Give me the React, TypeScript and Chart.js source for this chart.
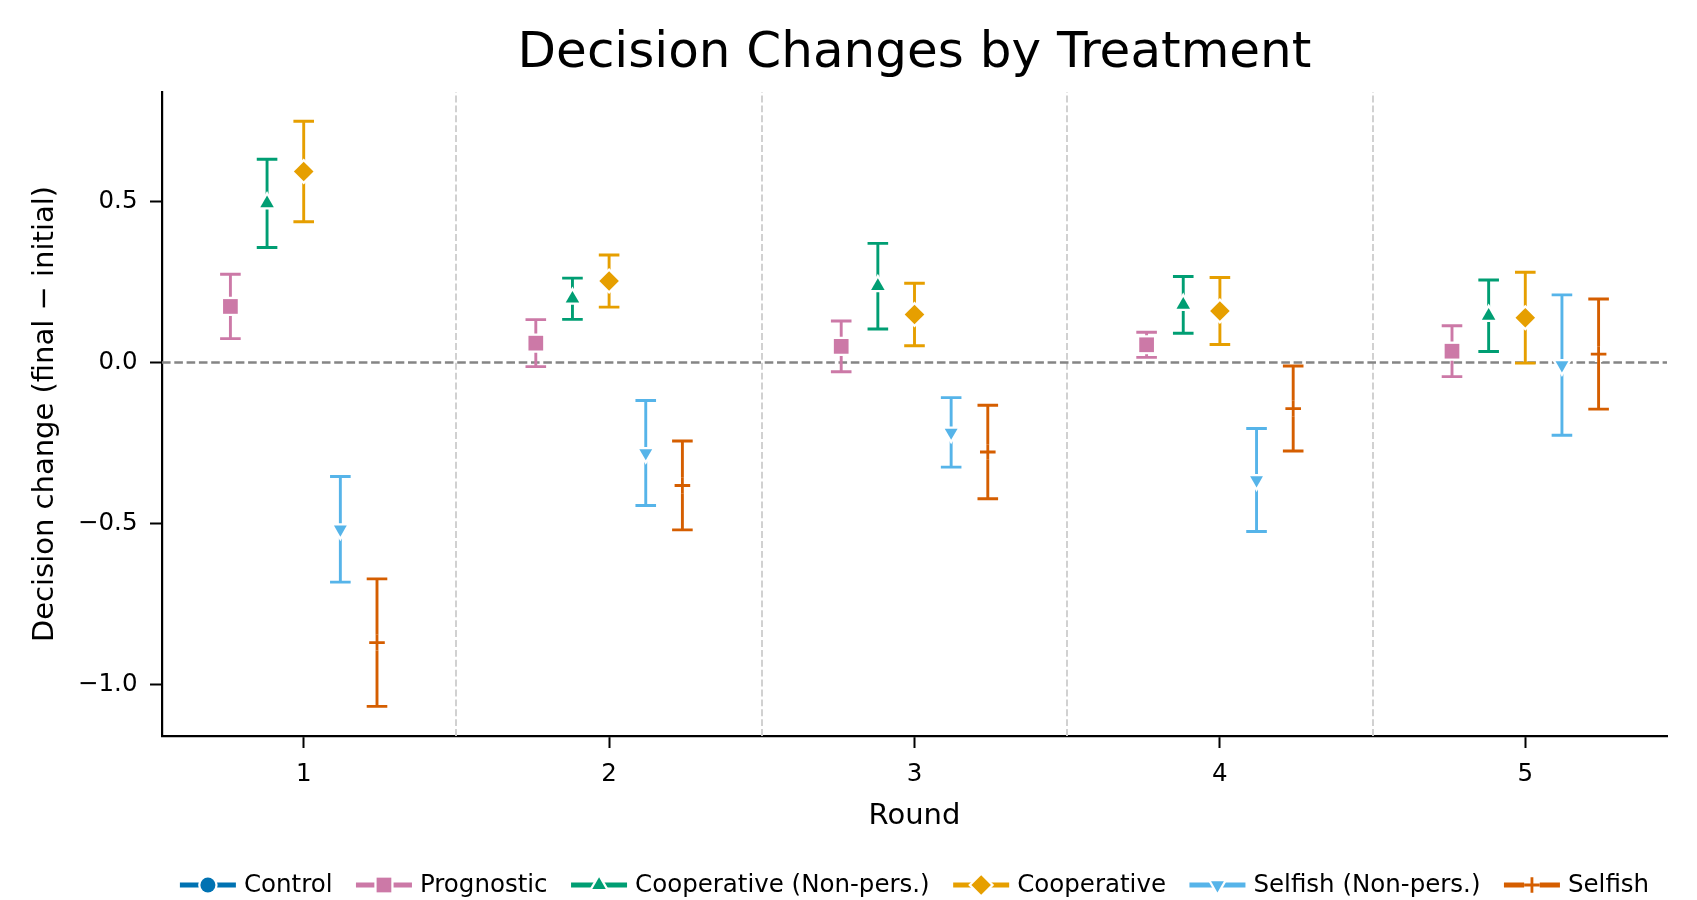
import React, { useEffect, useRef } from 'react';
import { Chart, registerables } from 'chart.js';
import { drawPoint } from 'chart.js/helpers';

Chart.register(...registerables);

// ---------- data ----------
const ROUNDS = [1, 2, 3, 4, 5];
const SERIES_NAMES = ['Control', 'Prognostic', 'Cooperative (Non-pers.)', 'Cooperative', 'Selfish (Non-pers.)', 'Selfish'];
const SERIES_COLORS = ['#0072B2', '#CC79A7', '#009E73', '#E69F00', '#56B4E9', '#D55E00'];
const SERIES_OFFSETS = [-0.36, -0.24, -0.12, 0, 0.12, 0.24];

const CONTROL_MEAN: (number | null)[] = [null, null, null, null, null];
const CONTROL_ERR: (number | null)[] = [null, null, null, null, null];
const PROGNOSTIC_MEAN = [0.174, 0.060, 0.050, 0.055, 0.035];
const PROGNOSTIC_ERR = [0.100, 0.073, 0.079, 0.039, 0.079];
const COOP_NP_MEAN = [0.494, 0.198, 0.237, 0.179, 0.145];
const COOP_NP_ERR = [0.137, 0.064, 0.133, 0.088, 0.111];
const COOP_MEAN = [0.593, 0.253, 0.149, 0.160, 0.139];
const COOP_ERR = [0.156, 0.081, 0.097, 0.104, 0.141];
const SELFISH_NP_MEAN = [-0.518, -0.281, -0.217, -0.365, -0.008];
const SELFISH_NP_ERR = [0.164, 0.163, 0.108, 0.160, 0.218];
const SELFISH_MEAN = [-0.870, -0.382, -0.278, -0.143, 0.026];
const SELFISH_ERR = [0.198, 0.138, 0.145, 0.132, 0.171];

const Y_TICKS = [-1.0, -0.5, 0.0, 0.5];
const Y_TICK_LABELS = ['\u22121.0', '\u22120.5', '0.0', '0.5'];
const SEPARATORS = [1.5, 2.5, 3.5, 4.5];
const ZERO_LINE = 0;

const TITLE = 'Decision Changes by Treatment';
const X_TITLE = 'Round';
const Y_TITLE = 'Decision change (final \u2212 initial)';

// ---------- styles ----------
const FONT = 'DejaVu Sans';
const MEANS = [CONTROL_MEAN, PROGNOSTIC_MEAN, COOP_NP_MEAN, COOP_MEAN, SELFISH_NP_MEAN, SELFISH_MEAN];
const ERRS = [CONTROL_ERR, PROGNOSTIC_ERR, COOP_NP_ERR, COOP_ERR, SELFISH_NP_ERR, SELFISH_ERR];
const POINT_STYLES = ['circle', 'rect', 'triangle', 'rectRot', 'triangle', 'cross'];
const POINT_ROTATIONS = [0, 0, 0, 0, 180, 0];
const POINT_RADII = [7.5, 10.4, 7.8, 9.8, 7.4, 7.8];

const errorBarPlugin = {
  id: 'errorBars',
  beforeDatasetsDraw(chart: any) {
    const { ctx, chartArea, scales } = chart;
    const xs = scales.x;
    const ys = scales.y;
    ctx.save();
    ctx.beginPath();
    ctx.rect(chartArea.left, chartArea.top, chartArea.right - chartArea.left, chartArea.bottom - chartArea.top);
    ctx.clip();
    // separators
    ctx.strokeStyle = '#cfcfcf';
    ctx.lineWidth = 1.9;
    ctx.setLineDash([6.9, 3]);
    for (const s of SEPARATORS) {
      const px = Math.round(xs.getPixelForValue(s));
      ctx.beginPath();
      ctx.moveTo(px, chartArea.bottom);
      ctx.lineTo(px, chartArea.top);
      ctx.stroke();
    }
    // zero line
    ctx.strokeStyle = '#858585';
    ctx.lineWidth = 2.3;
    ctx.setLineDash([8.6, 3.7]);
    const py = ys.getPixelForValue(ZERO_LINE);
    ctx.beginPath();
    ctx.moveTo(chartArea.left, py);
    ctx.lineTo(chartArea.right, py);
    ctx.stroke();
    ctx.setLineDash([]);
    // error bars
    const cap = 10.3;
    MEANS.forEach((means, i) => {
      ctx.strokeStyle = SERIES_COLORS[i];
      ctx.lineWidth = 2.9;
      ROUNDS.forEach((r, j) => {
        const m = means[j];
        const e = ERRS[i][j];
        if (m == null || e == null) return;
        const px = xs.getPixelForValue(r + SERIES_OFFSETS[i]);
        const yHi = ys.getPixelForValue(m + e);
        const yLo = ys.getPixelForValue(m - e);
        ctx.beginPath();
        ctx.moveTo(px, yLo);
        ctx.lineTo(px, yHi);
        ctx.moveTo(px - cap, yHi);
        ctx.lineTo(px + cap, yHi);
        ctx.moveTo(px - cap, yLo);
        ctx.lineTo(px + cap, yLo);
        ctx.stroke();
      });
    });
    ctx.restore();
  },
  afterDraw(chart: any) {
    const { ctx, chartArea } = chart;
    const cx = (chartArea.left + chartArea.right) / 2;
    ctx.save();
    // title
    ctx.fillStyle = '#000';
    ctx.textAlign = 'center';
    ctx.textBaseline = 'alphabetic';
    ctx.font = `50px "${FONT}"`;
    ctx.fillText(TITLE, cx, 67);
    // legend
    ctx.font = `24.5px "${FONT}"`;
    const handle = 56;
    const pad = 8;
    const gap = 23.5;
    const widths = SERIES_NAMES.map((n) => ctx.measureText(n).width);
    const total = widths.reduce((a, w) => a + handle + pad + w, 0) + gap * (SERIES_NAMES.length - 1);
    let x0 = cx - total / 2;
    const ly = 885;
    SERIES_NAMES.forEach((name, i) => {
      const col = SERIES_COLORS[i];
      ctx.strokeStyle = col;
      ctx.lineWidth = 5;
      ctx.beginPath();
      ctx.moveTo(x0, ly);
      ctx.lineTo(x0 + handle, ly);
      ctx.stroke();
      const mx = x0 + handle / 2;
      const isCross = POINT_STYLES[i] === 'cross';
      // halo
      ctx.fillStyle = '#fff';
      ctx.strokeStyle = '#fff';
      ctx.lineWidth = isCross ? 7.5 : 4.5;
      drawPoint(ctx, { pointStyle: POINT_STYLES[i], rotation: POINT_ROTATIONS[i], radius: POINT_RADII[i], borderWidth: ctx.lineWidth } as any, mx, ly);
      ctx.fillStyle = col;
      ctx.strokeStyle = col;
      ctx.lineWidth = isCross ? 2.8 : 0;
      drawPoint(ctx, { pointStyle: POINT_STYLES[i], rotation: POINT_ROTATIONS[i], radius: POINT_RADII[i], borderWidth: isCross ? 2.8 : 0 } as any, mx, ly);
      ctx.fillStyle = '#000';
      ctx.textAlign = 'left';
      ctx.textBaseline = 'middle';
      ctx.fillText(name, x0 + handle + pad, ly + 1);
      x0 += handle + pad + widths[i] + gap;
    });
    ctx.restore();
  },
};

export default function App() {
  const ref = useRef<HTMLCanvasElement | null>(null);
  useEffect(() => {
    if (!ref.current) return;
    const datasets: any[] = [];
    MEANS.forEach((means, i) => {
      const pts: { x: number; y: number }[] = [];
      ROUNDS.forEach((r, j) => {
        const m = means[j];
        if (m != null) pts.push({ x: r + SERIES_OFFSETS[i], y: m });
      });
      const isCross = POINT_STYLES[i] === 'cross';
      datasets.push({
        label: SERIES_NAMES[i] + ' halo',
        data: pts,
        showLine: false,
        pointStyle: POINT_STYLES[i],
        pointRotation: POINT_ROTATIONS[i],
        pointRadius: POINT_RADII[i],
        pointBackgroundColor: '#ffffff',
        pointBorderColor: '#ffffff',
        pointBorderWidth: isCross ? 7.5 : 4.5,
        order: 5,
      });
      datasets.push({
        label: SERIES_NAMES[i],
        data: pts,
        showLine: false,
        pointStyle: POINT_STYLES[i],
        pointRotation: POINT_ROTATIONS[i],
        pointRadius: POINT_RADII[i],
        pointBackgroundColor: SERIES_COLORS[i],
        pointBorderColor: SERIES_COLORS[i],
        pointBorderWidth: isCross ? 2.8 : 0,
        order: 1,
      });
    });

    const chart = new Chart(ref.current, {
      type: 'scatter',
      data: { datasets },
      plugins: [errorBarPlugin],
      options: {
        animation: false,
        responsive: false,
        events: [],
        layout: { padding: { left: 0, right: 30, top: 92, bottom: 0 } },
        plugins: {
          legend: { display: false },
          tooltip: { enabled: false },
          title: { display: false },
        },
        scales: {
          x: {
            type: 'linear',
            min: 0.536,
            max: 5.464,
            afterBuildTicks: (scale: any) => {
              scale.ticks = ROUNDS.map((v) => ({ value: v }));
            },
            afterFit: (scale: any) => {
              scale.height = 164;
            },
            ticks: {
              color: '#000',
              padding: 12,
              font: { family: FONT, size: 24.5 },
              callback: (v: any) => String(v),
            },
            grid: {
              display: true,
              drawOnChartArea: false,
              drawTicks: true,
              tickLength: 12,
              tickWidth: 2,
              tickColor: '#000',
            },
            border: { display: true, color: '#000', width: 2.2 },
            title: {
              display: true,
              text: X_TITLE,
              color: '#000',
              font: { family: FONT, size: 29 },
              padding: { top: 0, bottom: 66 },
            },
          },
          y: {
            type: 'linear',
            min: -1.16,
            max: 0.84,
            afterBuildTicks: (scale: any) => {
              scale.ticks = Y_TICKS.map((v) => ({ value: v }));
            },
            afterFit: (scale: any) => {
              scale.width = 162;
            },
            ticks: {
              color: '#000',
              padding: 12.5,
              font: { family: FONT, size: 24.5 },
              callback: (v: any) => {
                const k = Y_TICKS.indexOf(Number(v));
                return k >= 0 ? Y_TICK_LABELS[k] : '';
              },
            },
            grid: {
              display: true,
              drawOnChartArea: false,
              drawTicks: true,
              tickLength: 12,
              tickWidth: 2,
              tickColor: '#000',
            },
            border: { display: true, color: '#000', width: 2.2 },
            title: {
              display: true,
              text: Y_TITLE,
              color: '#000',
              font: { family: FONT, size: 29 },
              padding: { top: 28, bottom: 0 },
            },
          },
        },
      } as any,
    });
    return () => chart.destroy();
  }, []);

  return (
    <div style={{ position: 'fixed', left: 0, top: 0, width: 1697, height: 900, background: '#fff' }}>
      <canvas ref={ref} width={1697} height={900} style={{ display: 'block', width: 1697, height: 900 }} />
    </div>
  );
}
